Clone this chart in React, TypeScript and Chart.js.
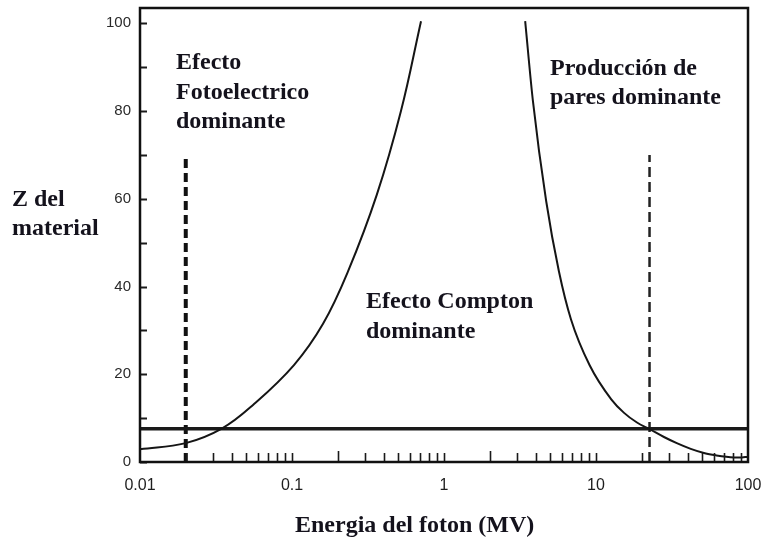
import React, { useEffect, useRef } from "react";
import { Chart, registerables } from "chart.js";

Chart.register(...registerables);

// ---- Data ----
const X_TICK_VALUES = [0.01, 0.1, 1, 10, 100];
const X_TICK_LABELS = ["0.01", "0.1", "1", "10", "100"];
const Y_TICK_VALUES = [0, 20, 40, 60, 80, 100];
const Y_TICK_LABELS = ["0", "20", "40", "60", "80", "100"];
const Y_MINOR_VALUES = [10, 30, 50, 70, 90];
const X_MINOR_VALUES = [
  0.02, 0.03, 0.04, 0.05, 0.06, 0.07, 0.08, 0.09, 0.1,
  0.2, 0.3, 0.4, 0.5, 0.6, 0.7, 0.8, 0.9, 1,
  2, 3, 4, 5, 6, 7, 8, 9, 10,
  20, 30, 40, 50, 60, 70, 80, 90,
];

// Photoelectric / Compton boundary
const PHOTO_X = [0.01, 0.02, 0.0345, 0.0554, 0.103, 0.16, 0.234, 0.362, 0.521, 0.706];
const PHOTO_Y = [2.9, 4.3, 7.6, 13, 22.1, 31.5, 43.5, 61, 80, 100.5];

// Compton / pair production boundary
const PAIR_X = [3.42, 3.84, 4.7, 5.7, 6.85, 9.1, 12.6, 15.3, 18.6, 22.5, 28, 34, 42, 52, 62, 72, 88, 100];
const PAIR_Y = [100.5, 82.5, 59.5, 43.5, 32.5, 22, 14.3, 11.2, 9.0, 7.5, 5.7, 4.3, 3.0, 2.0, 1.5, 1.2, 1.0, 1.2];

// Horizontal reference line (Z of material)
const HLINE_X = [0.01, 100];
const HLINE_Y = [7.6, 7.6];

// Dashed verticals
const DASH_LEFT_X = [0.02, 0.02];
const DASH_LEFT_Y = [0, 70];
const DASH_RIGHT_X = [22.5, 22.5];
const DASH_RIGHT_Y = [0, 70];

// Text labels
const LABEL_PHOTO = ["Efecto", "Fotoelectrico", "dominante"];
const LABEL_PAIR = ["Producción de", "pares dominante"];
const LABEL_COMPTON = ["Efecto Compton", "dominante"];
const LABEL_Y = ["Z del", "material"];
const LABEL_X = "Energia del foton (MV)";

const pts = (xs: number[], ys: number[]) => xs.map((x, i) => ({ x, y: ys[i] }));

const decorPlugin = {
  id: "decor",
  afterDraw(chart: any) {
    const { ctx, chartArea: a, scales } = chart;
    const xs = scales.x;
    const ys = scales.y;
    ctx.save();
    ctx.strokeStyle = "#1a1a1a";
    // x minor ticks (inside, upwards)
    ctx.lineWidth = 1.6;
    X_MINOR_VALUES.forEach((v) => {
      const px = Math.round(xs.getPixelForValue(v)) + 0.5;
      const len = v === 0.2 || v === 2 ? 11 : 9;
      ctx.beginPath();
      ctx.moveTo(px, a.bottom);
      ctx.lineTo(px, a.bottom - len);
      ctx.stroke();
    });
    // y ticks (inside, rightwards)
    ctx.lineWidth = 2;
    [...Y_TICK_VALUES, ...Y_MINOR_VALUES].forEach((v) => {
      const py = Math.round(ys.getPixelForValue(v)) + 0.5;
      ctx.beginPath();
      ctx.moveTo(a.left, py);
      ctx.lineTo(a.left + 7, py);
      ctx.stroke();
    });
    // frame
    ctx.lineWidth = 2.5;
    ctx.strokeStyle = "#111";
    ctx.strokeRect(a.left, a.top, a.right - a.left, a.bottom - a.top);

    // texts
    ctx.fillStyle = "#14121c";
    ctx.font = 'bold 24px "Liberation Serif", "Times New Roman", serif';
    ctx.textAlign = "left";
    ctx.textBaseline = "alphabetic";
    const block = (lines: string[], x: number, y: number, lh: number) => {
      lines.forEach((t, i) => ctx.fillText(t, x, y + i * lh));
    };
    block(LABEL_PHOTO, 176, 69, 29.5);
    block(LABEL_PAIR, 550, 75, 29);
    block(LABEL_COMPTON, 366, 308, 30);
    block(LABEL_Y, 12, 206, 29);
    ctx.fillText(LABEL_X, 295, 532);
    ctx.restore();
  },
};

export default function App() {
  const ref = useRef<HTMLCanvasElement | null>(null);
  useEffect(() => {
    if (!ref.current) return;
    const chart = new Chart(ref.current, {
      type: "scatter",
      data: {
        datasets: [
          {
            data: pts(PHOTO_X, PHOTO_Y),
            showLine: true,
            borderColor: "#151515",
            borderWidth: 2,
            pointRadius: 0,
            tension: 0.4,
          },
          {
            data: pts(PAIR_X, PAIR_Y),
            showLine: true,
            borderColor: "#151515",
            borderWidth: 2,
            pointRadius: 0,
            cubicInterpolationMode: "monotone",
          },
          {
            data: pts(HLINE_X, HLINE_Y),
            showLine: true,
            borderColor: "#1a1a1a",
            borderWidth: 3.5,
            pointRadius: 0,
          },
          {
            data: pts(DASH_LEFT_X, DASH_LEFT_Y),
            showLine: true,
            borderColor: "#111",
            borderWidth: 4,
            borderDash: [9, 5],
            pointRadius: 0,
          },
          {
            data: pts(DASH_RIGHT_X, DASH_RIGHT_Y),
            showLine: true,
            borderColor: "#222",
            borderWidth: 2.5,
            borderDash: [10, 5],
            pointRadius: 0,
          },
        ],
      },
      options: {
        responsive: false,
        animation: false,
        devicePixelRatio: 1,
        layout: { padding: { left: 0, top: 8, right: 16, bottom: 0 } },
        plugins: {
          legend: { display: false },
          tooltip: { enabled: false },
        },
        scales: {
          x: {
            type: "logarithmic",
            min: 0.01,
            max: 100,
            grid: { display: false, drawTicks: false },
            border: { display: false },
            afterBuildTicks: (s: any) => {
              s.ticks = X_TICK_VALUES.map((v) => ({ value: v }));
            },
            afterFit: (s: any) => {
              s.height = 79;
              s.paddingLeft = 0;
              s.paddingRight = 0;
            },
            ticks: {
              autoSkip: false,
              maxRotation: 0,
              padding: 14,
              color: "#1e1e1e",
              font: { family: '"Liberation Sans", Arial, sans-serif', size: 16 },
              callback: (_v: any, i: number) => X_TICK_LABELS[i],
            },
          },
          y: {
            type: "linear",
            min: 0,
            max: 103.5,
            grid: { display: false, drawTicks: false },
            border: { display: false },
            afterBuildTicks: (s: any) => {
              s.ticks = Y_TICK_VALUES.map((v) => ({ value: v }));
            },
            afterFit: (s: any) => {
              s.width = 140;
              s.paddingTop = 0;
              s.paddingBottom = 0;
            },
            ticks: {
              autoSkip: false,
              padding: 9,
              color: "#2a2a2a",
              font: { family: '"Liberation Sans", Arial, sans-serif', size: 15 },
              callback: (_v: any, i: number) => Y_TICK_LABELS[i],
            },
          },
        },
      },
      plugins: [decorPlugin],
    } as any);
    return () => chart.destroy();
  }, []);

  return (
    <div style={{ position: "absolute", left: 0, top: 0, width: 764, height: 541, background: "#fff" }}>
      <canvas ref={ref} width={764} height={541} style={{ display: "block" }} />
    </div>
  );
}
